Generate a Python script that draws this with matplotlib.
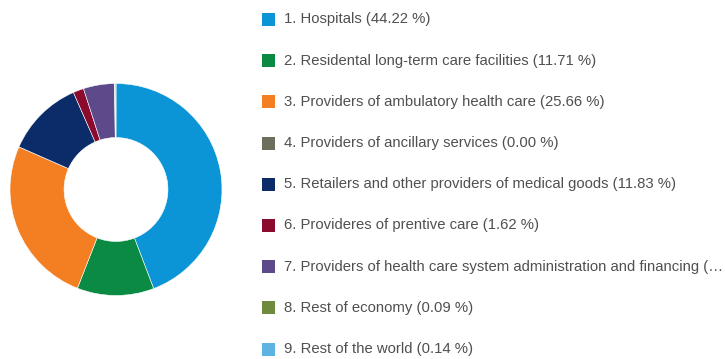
import matplotlib.pyplot as plt
from matplotlib.patches import Rectangle

labels = ['1. Hospitals (44.22 %)',
          '2. Residental long-term care facilities (11.71 %)',
          '3. Providers of ambulatory health care (25.66 %)',
          '4. Providers of ancillary services (0.00 %)',
          '5. Retailers and other providers of medical goods (11.83 %)',
          '6. Provideres of prentive care (1.62 %)',
          '7. Providers of health care system administration and financing (\u2026',
          '8. Rest of economy (0.09 %)',
          '9. Rest of the world (0.14 %)']
shares = [44.22, 11.71, 25.66, 0.00, 11.83, 1.62, 4.73, 0.09, 0.14]
colors = ['#0b94d6', '#0b8a43', '#f47f22', '#6e6e5c', '#0b2b69',
          '#8a0b2d', '#5c4a8a', '#6f8a3c', '#5fb3e3']

plt.rcParams['font.family'] = ['Liberation Sans', 'DejaVu Sans']

W, H = 725, 359
fig = plt.figure(figsize=(W / 100, H / 100), dpi=100)

cx, cy, r = 116, 189.5, 106
ax = fig.add_axes([(cx - r) / W, (H - cy - r) / H, 2 * r / W, 2 * r / H])
ax.pie(shares, colors=colors, startangle=90, counterclock=False, radius=1,
       wedgeprops=dict(width=0.51, edgecolor='white', linewidth=0.4))
ax.set_xlim(-1, 1)
ax.set_ylim(-1, 1)
ax.set_aspect('equal')
ax.axis('off')

y0, dy = 19.5, 41.2
for i, (lab, col) in enumerate(zip(labels, colors)):
    y = y0 + i * dy
    fig.patches.append(Rectangle(((262) / W, (H - y - 6.5) / H), 13 / W, 13 / H,
                                 transform=fig.transFigure, facecolor=col,
                                 edgecolor='none'))
    fig.text(284 / W, (H - y) / H, lab, fontsize=10.7, color='#505050',
             va='center', ha='left')

fig.savefig('out.png', dpi=100)
